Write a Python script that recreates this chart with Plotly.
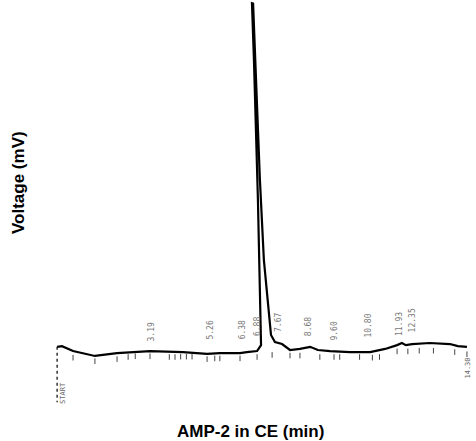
import plotly.graph_objects as go

# Electropherogram trace (time in min, signal in mV, arbitrary baseline 0)
time_min = [-0.15, 0.02, 0.41, 1.18, 1.96, 3.12, 4.28, 5.13, 5.58, 6.29, 6.53, 6.89, 7.03,
            6.92, 6.78, 6.71, 6.75, 6.85, 6.99, 7.13, 7.28, 7.38, 7.52, 7.77, 8.05, 8.40,
            8.76, 9.03, 9.46, 10.16, 10.87, 11.40, 11.82, 11.99, 12.13, 12.35, 12.97,
            13.68, 13.96, 14.28]
voltage_mv = [0.9, 1.1, -0.3, -1.7, -0.9, -0.3, -0.6, -1.1, -0.9, -0.9, -0.6, -0.3, 1.4,
              42.9, 82.9, 99.1, 99.0, 77.0, 48.6, 25.7, 11.4, 4.3, 2.3, 1.7, 0.0, 0.3,
              0.9, 0.0, -0.3, -0.6, -0.6, 0.3, 1.4, 2.0, 1.4, 1.7, 2.0,
              1.7, 1.1, 0.9]

# Start marker (injection)
start_time = [-0.15, -0.15]
start_volt = [0.9, -14.9]

# Peak retention-time labels printed by the integrator
peak_times = [3.19, 5.26, 6.38, 6.88, 7.67, 8.68, 9.60, 10.80, 11.93, 12.35]
peak_labels = ["3.19", "5.26", "6.38", "6.88", "7.67", "8.68", "9.60", "10.80", "11.93", "12.35"]
label_level = [2.0, 2.5, 2.5, 3.5, 4.5, 3.5, 2.0, 3.0, 3.5, 4.5]

# Event tick marks along the baseline
tick_times = [0.41, 1.18, 1.96, 2.35, 2.60, 3.12, 3.8, 4.0, 4.2, 4.4, 4.6, 5.13, 5.4, 5.58,
              6.29, 6.89, 7.42, 8.05, 8.40, 9.1, 9.60, 9.8, 10.5, 10.95, 11.2, 11.82,
              12.2, 12.6, 13.1, 13.85, 14.28]
tick_level = [-2.2, -3.2, -2.6, -2.0, -1.8, -1.8, -2.0, -2.0, -1.9, -1.9, -1.9, -2.6, -2.4,
              -2.4, -2.4, -2.0, -1.4, -1.6, -1.6, -2.0, -2.0, -2.0, -2.0, -2.2, -2.0, -0.4,
              -0.4, -0.2, -0.2, -0.6, -1.2]

fig = go.Figure()
fig.add_trace(go.Scatter(x=start_time, y=start_volt, mode="lines",
                         line=dict(color="#333333", width=1.5, dash="dot"),
                         hoverinfo="skip", showlegend=False))
fig.add_trace(go.Scatter(x=tick_times, y=tick_level, mode="markers",
                         marker=dict(symbol="line-ns-open", size=4, color="#444444",
                                     line=dict(color="#444444", width=1)),
                         hoverinfo="skip", showlegend=False))
fig.add_trace(go.Scatter(x=time_min, y=voltage_mv, mode="lines",
                         line=dict(color="black", width=2.2),
                         showlegend=False))

for t, lab, lv in zip(peak_times, peak_labels, label_level):
    fig.add_annotation(x=t, y=lv, text=lab, textangle=-90, showarrow=False,
                       xanchor="center", yanchor="bottom",
                       font=dict(family="DejaVu Sans Mono", size=8, color="#777777"))

fig.add_annotation(x=-0.15, y=-8.5, text="START", textangle=-90, showarrow=False,
                   xanchor="left", yanchor="top",
                   font=dict(family="DejaVu Sans Mono", size=7, color="#666666"))
fig.add_annotation(x=14.31, y=-1.5, text="14.30", textangle=-90, showarrow=False,
                   xanchor="center", yanchor="top",
                   font=dict(family="DejaVu Sans Mono", size=7, color="#666666"))

fig.add_annotation(xref="paper", yref="paper", x=18 / 476, y=1 - 183 / 441,
                   text="<b>Voltage (mV)</b>", textangle=-90, showarrow=False,
                   xanchor="center", yanchor="middle",
                   font=dict(family="Liberation Sans", size=17, color="black"))
fig.add_annotation(xref="paper", yref="paper", x=250 / 476, y=1 - 431 / 441,
                   text="<b>AMP-2 in CE (min)</b>", showarrow=False,
                   xanchor="center", yanchor="middle",
                   font=dict(family="Liberation Sans", size=17, color="black"))

fig.update_xaxes(range=[-2.162, 14.599], visible=False)
fig.update_yaxes(range=[-26, 100], visible=False)
fig.update_layout(width=476, height=441, margin=dict(l=0, r=0, t=0, b=0),
                  paper_bgcolor="white", plot_bgcolor="white")

fig.write_html("out.html")
